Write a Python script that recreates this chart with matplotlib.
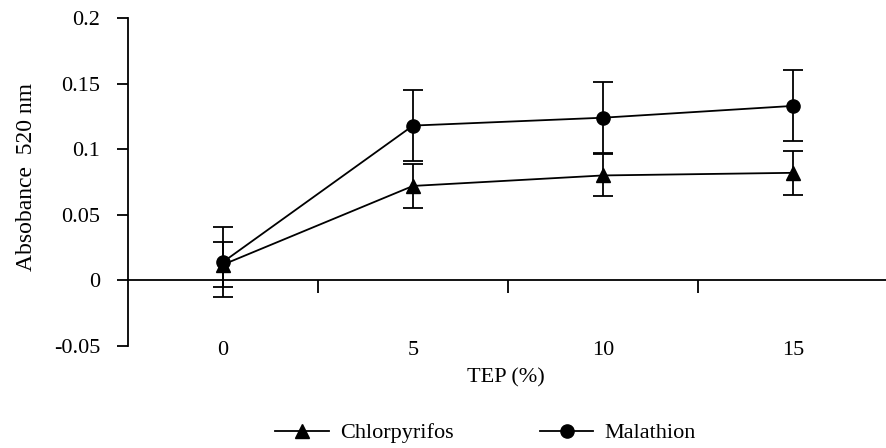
import matplotlib
matplotlib.use("Agg")
import matplotlib.pyplot as plt
import matplotlib.transforms as mtransforms

plt.rcParams['font.family'] = ['Liberation Serif', 'DejaVu Serif']
plt.rcParams['axes.unicode_minus'] = False

# donnees
conc = ['0', '5', '10', '15']
chlor = [0.012, 0.072, 0.080, 0.082]
chlor_err = [0.017, 0.017, 0.016, 0.017]
mala = [0.014, 0.118, 0.124, 0.133]
mala_err = [0.027, 0.027, 0.027, 0.027]
yticks = [-0.05, 0, 0.05, 0.1, 0.15, 0.2]
ytick_labels = ['-0.05', '0', '0.05', '0.1', '0.15', '0.2']

fs = 16
fig = plt.figure(figsize=(8.86, 4.48), dpi=100)
ax = fig.add_axes([128/886, 1-346/448, 760/886, 328/448])

x = list(range(len(conc)))
ax.errorbar(x, mala, yerr=mala_err, fmt='none', ecolor='black', elinewidth=1.3,
            capsize=7, capthick=1.3)
ax.errorbar(x, chlor, yerr=chlor_err, fmt='none', ecolor='black', elinewidth=1.3,
            capsize=7, capthick=1.3)
ax.plot(x, chlor, color='black', lw=1.3, marker='^', ms=9.5, label='Chlorpyrifos')
ax.plot(x, mala, color='black', lw=1.3, marker='o', ms=9.5, label='Malathion')

ax.set_xlim(-0.5, 3.5)
ax.set_ylim(-0.05, 0.2)
ax.set_yticks(yticks)
ax.set_yticklabels(ytick_labels, fontsize=fs)
ax.tick_params(axis='y', direction='out', length=8, width=1.3, pad=12)

ax.spines['top'].set_visible(False)
ax.spines['right'].set_visible(False)
ax.spines['left'].set_linewidth(1.3)
ax.spines['bottom'].set_position(('data', 0))
ax.spines['bottom'].set_linewidth(1.3)
ax.set_xticks([0.5, 1.5, 2.5])
ax.set_xticklabels([])
ax.tick_params(axis='x', direction='out', length=9, width=1.3)

# etiquettes de categories en bas de la zone de trace
trans = mtransforms.blended_transform_factory(ax.transData, ax.transAxes)
for i, lbl in enumerate(conc):
    ax.text(i, -0.014, lbl, transform=trans, ha='center', va='center', fontsize=fs)

fig.text(506/886, 1-378/448, 'TEP (%)', ha='center', va='center', fontsize=fs)
fig.text(27/886, 1-177/448, 'Absobance  520 nm', rotation=90, ha='center',
         va='center', fontsize=17)

fig.legend(loc='center', bbox_to_anchor=(0.548, 1-433/448), ncol=2, frameon=False,
           fontsize=fs, handlelength=2.4, columnspacing=3.9, handletextpad=0.5)

fig.savefig('out.png', dpi=100)
